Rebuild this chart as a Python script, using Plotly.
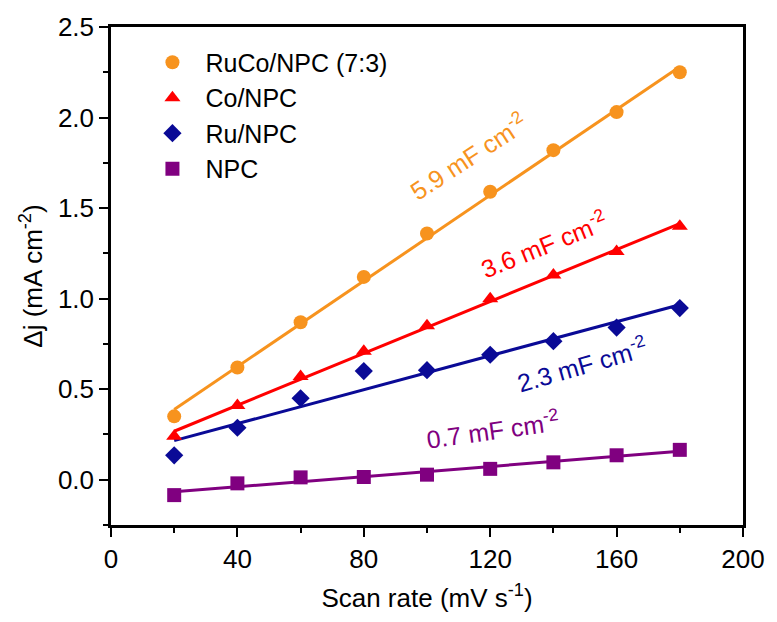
import numpy as np
import plotly.graph_objects as go

# Scan rates (mV s^-1)
scan_rate = [20, 40, 60, 80, 100, 120, 140, 160, 180]

# Current density differences (mA cm^-2)
ruco_npc = [0.35, 0.62, 0.87, 1.12, 1.36, 1.59, 1.82, 2.03, 2.25]
co_npc = [0.24, 0.41, 0.57, 0.71, 0.85, 1.00, 1.13, 1.26, 1.40]
ru_npc = [0.135, 0.287, 0.45, 0.60, 0.605, 0.69, 0.765, 0.84, 0.948]
npc = [-0.085, -0.02, 0.013, 0.015, 0.028, 0.06, 0.096, 0.135, 0.165]

names = ["RuCo/NPC (7:3)", "Co/NPC", "Ru/NPC", "NPC"]
series = [ruco_npc, co_npc, ru_npc, npc]
colors = ["#F7931E", "#FF0000", "#0A0A96", "#800080"]
symbols = ["circle", "triangle-up", "diamond", "square"]

# Double-layer capacitance labels and where they sit
cdl_labels = ["5.9 mF cm<sup>-2</sup>", "3.6 mF cm<sup>-2</sup>",
              "2.3 mF cm<sup>-2</sup>", "0.7 mF cm<sup>-2</sup>"]
label_x = [113, 137, 149, 121]
label_y = [1.79, 1.30, 0.64, 0.28]
label_angle = [-33, -22, -16, -8]

FONT = "Liberation Sans, Arial, sans-serif"

fig = go.Figure()

x = np.array(scan_rate, dtype=float)
for name, ys, c, s in zip(names, series, colors, symbols):
    y = np.array(ys, dtype=float)
    k, b = np.polyfit(x, y, 1)
    fig.add_trace(go.Scatter(
        x=[x[0], x[-1]], y=[k * x[0] + b, k * x[-1] + b],
        mode="lines", line=dict(color=c, width=3),
        showlegend=False, hoverinfo="skip"))

for name, ys, c, s in zip(names, series, colors, symbols):
    fig.add_trace(go.Scatter(
        x=scan_rate, y=ys, mode="markers", name=name,
        marker=dict(color=c, symbol=s, size=14, line=dict(width=0))))

for txt, lx, ly, ang, c in zip(cdl_labels, label_x, label_y, label_angle, colors):
    fig.add_annotation(x=lx, y=ly, text=txt, showarrow=False, textangle=ang,
                       font=dict(family=FONT, size=25, color=c))

axis_common = dict(
    showline=True, linecolor="black", linewidth=2.5, mirror=True,
    ticks="outside", ticklen=9, tickwidth=2, tickcolor="black",
    showgrid=False, zeroline=False,
    tickfont=dict(family=FONT, size=26, color="black"),
)

fig.update_xaxes(range=[0, 200], tickvals=[0, 40, 80, 120, 160, 200],
                 minor=dict(dtick=20, tick0=0, ticks="outside", ticklen=5,
                            tickwidth=2, tickcolor="black"),
                 title=dict(text="Scan rate (mV s<sup>-1</sup>)",
                            font=dict(family=FONT, size=26, color="black"),
                            standoff=16),
                 **axis_common)
fig.update_yaxes(range=[-0.25, 2.5], tickvals=[0, 0.5, 1.0, 1.5, 2.0, 2.5],
                 tickformat=".1f",
                 minor=dict(dtick=0.25, tick0=0, ticks="outside", ticklen=5,
                            tickwidth=2, tickcolor="black"),
                 title=dict(text="\u0394j (mA cm<sup>-2</sup>)",
                            font=dict(family=FONT, size=26, color="black"),
                            standoff=8),
                 **axis_common)

fig.update_layout(
    width=777, height=622,
    margin=dict(l=111, r=24, t=26, b=97),
    paper_bgcolor="white", plot_bgcolor="white",
    font=dict(family=FONT, color="black"),
    legend=dict(x=0.045, y=0.975, xanchor="left", yanchor="top",
                bgcolor="rgba(0,0,0,0)", borderwidth=0,
                font=dict(family=FONT, size=25, color="black"),
                itemwidth=56, tracegroupgap=0),
)

fig.write_html("out.html")
